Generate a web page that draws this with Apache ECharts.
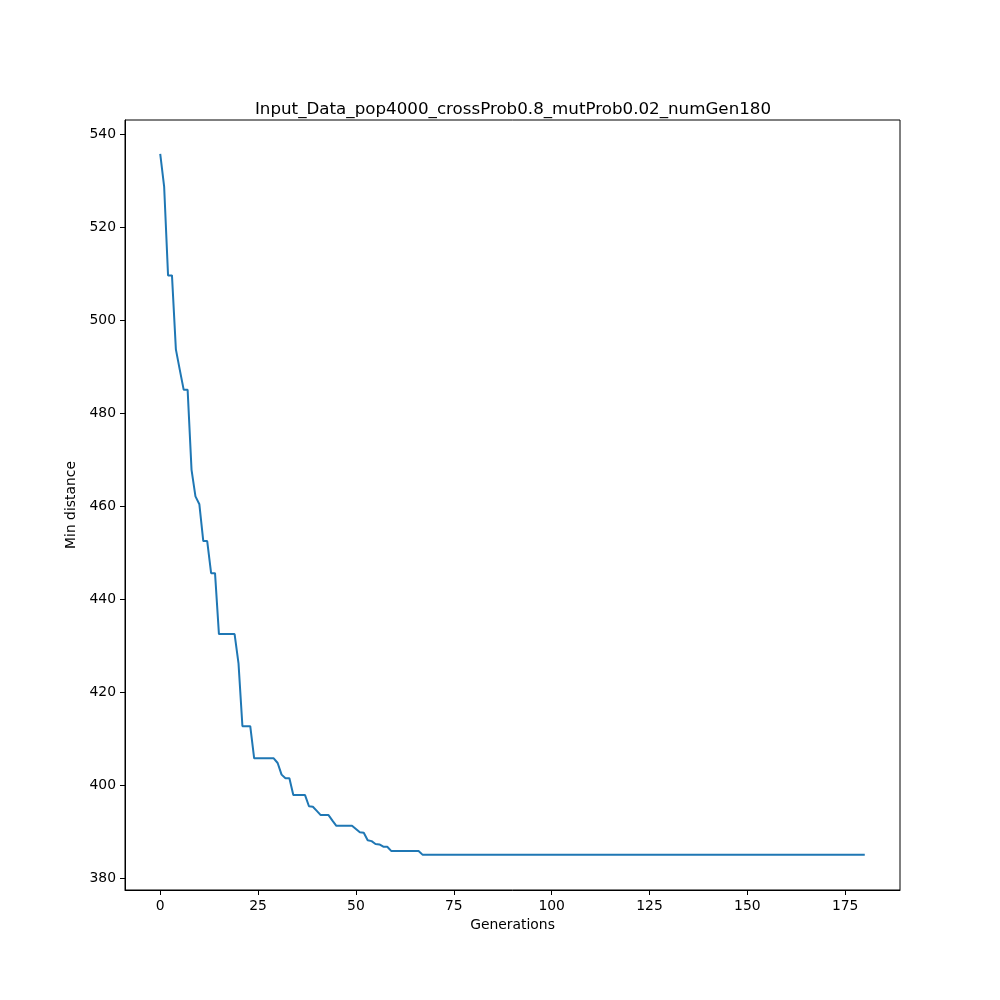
<!DOCTYPE html>
<html>
<head>
<meta charset="utf-8">
<script src="https://cdn.jsdelivr.net/npm/echarts@6/dist/echarts.min.js"></script>
<style>
  html, body { margin: 0; padding: 0; background: #fff; }
  #chart { width: 1000px; height: 1000px; }
</style>
</head>
<body>
<div id="chart"></div>
<script>
const generations = [
  0, 1, 2, 3, 4, 5, 6, 7, 8, 9,
  10, 11, 12, 13, 14, 15, 16, 17, 18, 19,
  20, 21, 22, 23, 24, 25, 26, 27, 28, 29,
  30, 31, 32, 33, 34, 35, 36, 37, 38, 39,
  40, 41, 42, 43, 44, 45, 46, 47, 48, 49,
  50, 51, 52, 53, 54, 55, 56, 57, 58, 59,
  60, 61, 62, 63, 64, 65, 66, 67, 180
]
const minDistance = [
  535.7, 528.7, 509.6, 509.6, 493.7, 489.3, 485.0, 485.0, 467.8, 462.1,
  460.4, 452.5, 452.5, 445.6, 445.6, 432.5, 432.5, 432.5, 432.5, 432.5,
  426.2, 412.7, 412.7, 412.7, 405.8, 405.8, 405.8, 405.8, 405.8, 405.8,
  404.8, 402.3, 401.5, 401.5, 397.9, 397.9, 397.9, 397.9, 395.5, 395.4,
  394.5, 393.6, 393.6, 393.6, 392.4, 391.3, 391.3, 391.3, 391.3, 391.3,
  390.6, 389.9, 389.8, 388.2, 388.0, 387.4, 387.3, 386.8, 386.8, 385.9,
  385.9, 385.9, 385.9, 385.9, 385.9, 385.9, 385.9, 385.1, 385.1
]
const xTicks = [0, 25, 50, 75, 100, 125, 150, 175]
const yTicks = [380, 400, 420, 440, 460, 480, 500, 520, 540]

const chart = echarts.init(document.getElementById('chart'))
const font = 'DejaVu Sans'

chart.setOption({
  animation: false,
  backgroundColor: '#fff',
  title: {
    text: 'Input_Data_pop4000_crossProb0.8_mutProb0.02_numGen180',
    left: 508,
    top: 96,
    textAlign: 'center',
    textStyle: { fontFamily: font, fontSize: 16.7, fontWeight: 'normal', color: '#000' }
  },
  grid: {
    left: 125,
    right: 100,
    top: 120,
    bottom: 110,
    show: true,
    borderColor: '#000',
    borderWidth: 1
  },
  xAxis: {
    type: 'value',
    min: -9,
    max: 189,
    name: 'Generations',
    nameLocation: 'middle',
    nameGap: 28,
    nameTextStyle: { fontFamily: font, fontSize: 13.9, color: '#000' },
    axisLine: { show: true, onZero: false, lineStyle: { color: '#000', width: 1 } },
    axisTick: { show: true, length: 5, customValues: xTicks, lineStyle: { color: '#000' } },
    axisLabel: { customValues: xTicks, margin: 9, fontFamily: font, fontSize: 13.9, color: '#000' },
    splitLine: { show: false }
  },
  yAxis: {
    type: 'value',
    min: 377.5,
    max: 543.0,
    name: 'Min distance',
    nameLocation: 'middle',
    nameGap: 42,
    nameRotate: 90,
    nameTextStyle: { fontFamily: font, fontSize: 13.9, color: '#000' },
    axisLine: { show: true, onZero: false, lineStyle: { color: '#000', width: 1 } },
    axisTick: { show: true, length: 5, customValues: yTicks, lineStyle: { color: '#000' } },
    axisLabel: { customValues: yTicks, margin: 9, fontFamily: font, fontSize: 13.9, color: '#000' },
    splitLine: { show: false }
  },
  series: [{
    type: 'line',
    data: generations.map((g, i) => [g, minDistance[i]]),
    showSymbol: false,
    symbol: 'none',
    lineStyle: { color: '#1f77b4', width: 2 }
  }]
})
</script>
</body>
</html>
